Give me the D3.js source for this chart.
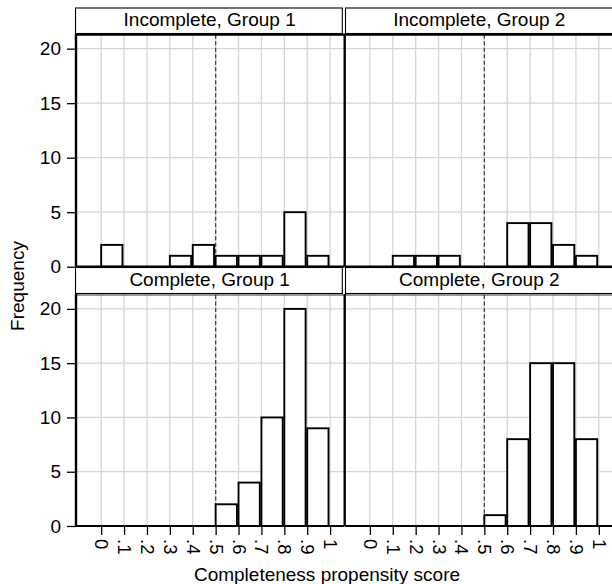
<!DOCTYPE html>
<html>
<head>
<meta charset="utf-8">
<script src="https://cdn.jsdelivr.net/npm/d3@7"></script>
<style>
  html, body { margin: 0; padding: 0; background: #fff; }
  svg { display: block; font-family: "Liberation Sans", Arial, sans-serif; }
</style>
</head>
<body>
<svg id="chart" width="612" height="584"></svg>
<script>
// ---- data ----
const binStarts = [0, 0.1, 0.2, 0.3, 0.4, 0.5, 0.6, 0.7, 0.8, 0.9];
const binWidth = 0.1;
const incompleteGroup1 = [2, 0, 0, 1, 2, 1, 1, 1, 5, 1];
const incompleteGroup2 = [0, 1, 1, 1, 0, 0, 4, 4, 2, 1];
const completeGroup1   = [0, 0, 0, 0, 0, 2, 4, 10, 20, 9];
const completeGroup2   = [0, 0, 0, 0, 0, 1, 8, 15, 15, 8];
const panelTitles = ["Incomplete, Group 1", "Incomplete, Group 2", "Complete, Group 1", "Complete, Group 2"];
const xTickValues = [0, 0.1, 0.2, 0.3, 0.4, 0.5, 0.6, 0.7, 0.8, 0.9, 1];
const xTickLabels = ["0", ".1", ".2", ".3", ".4", ".5", ".6", ".7", ".8", ".9", "1"];
const yTickValues = [0, 5, 10, 15, 20];
const cutoff = 0.5;
const xTitle = "Completeness propensity score";
const yTitle = "Frequency";

// ---- layout ----
const svg = d3.select("#chart");
const colX = [76, 344.7];
const panelW = 268.3;
const rowTop = [34.7, 295];
const rowBottom = [266.7, 526];
const stripTop = [8, 267.5];
const stripBottom = [33.5, 293.5];
const xDomain = [-0.11, 1.062];
const yDomain = [0, 21.28];
const gridColor = "#d6d6d6";
const fontSize = 19;

const panels = [
  { title: panelTitles[0], values: incompleteGroup1, col: 0, row: 0 },
  { title: panelTitles[1], values: incompleteGroup2, col: 1, row: 0 },
  { title: panelTitles[2], values: completeGroup1,   col: 0, row: 1 },
  { title: panelTitles[3], values: completeGroup2,   col: 1, row: 1 }
];

panels.forEach(p => {
  const x0 = colX[p.col], x1 = x0 + panelW;
  const top = rowTop[p.row], bottom = rowBottom[p.row];
  const x = d3.scaleLinear().domain(xDomain).range([x0, x1]);
  const y = d3.scaleLinear().domain(yDomain).range([bottom, top]);
  const g = svg.append("g");

  // strip header
  g.append("rect")
    .attr("x", x0 + (p.col === 0 ? -0.5 : 0.8))
    .attr("y", stripTop[p.row])
    .attr("width", panelW - (p.col === 0 ? 1.5 : 0))
    .attr("height", stripBottom[p.row] - stripTop[p.row])
    .attr("fill", "#fff").attr("stroke", "#000").attr("stroke-width", 1.1);
  g.append("text")
    .attr("x", (x0 + x1) / 2 + (p.col === 0 ? -0.5 : 0.5))
    .attr("y", stripBottom[p.row] - 7.5)
    .attr("text-anchor", "middle")
    .attr("font-size", fontSize)
    .text(p.title);

  // gridlines
  g.append("g").selectAll("line.v").data(xTickValues).join("line")
    .attr("x1", d => x(d)).attr("x2", d => x(d))
    .attr("y1", top).attr("y2", bottom)
    .attr("stroke", gridColor).attr("stroke-width", 1.3);
  g.append("g").selectAll("line.h").data(yTickValues).join("line")
    .attr("x1", x0).attr("x2", x1)
    .attr("y1", d => y(d)).attr("y2", d => y(d))
    .attr("stroke", gridColor).attr("stroke-width", 1.3);

  // cutoff line
  g.append("line")
    .attr("x1", x(cutoff)).attr("x2", x(cutoff))
    .attr("y1", top).attr("y2", bottom)
    .attr("stroke", "#444").attr("stroke-width", 1.3)
    .attr("stroke-dasharray", "4,2.5");

  // bars
  const bins = binStarts.map((b, i) => ({ start: b, count: p.values[i] })).filter(d => d.count > 0);
  g.append("g").selectAll("rect").data(bins).join("rect")
    .attr("x", d => x(d.start))
    .attr("width", d => x(d.start + binWidth) - x(d.start) - 1.6)
    .attr("y", d => y(d.count))
    .attr("height", d => y(0) - y(d.count))
    .attr("fill", "#fff").attr("stroke", "#000").attr("stroke-width", 1.9);

  // top line of plot region
  g.append("line")
    .attr("x1", x0).attr("x2", x1).attr("y1", top).attr("y2", top)
    .attr("stroke", "#000").attr("stroke-width", p.row === 0 ? 2.2 : 0.8);

  // x axis
  const xAxis = d3.axisBottom(x).tickValues(p.row === 1 ? xTickValues : []).tickSize(p.row === 1 ? 9 : 0)
    .tickFormat((d, i) => xTickLabels[i]);
  const xa = g.append("g").attr("transform", `translate(0,${bottom})`).call(xAxis);
  xa.select(".domain").attr("d", `M${x0},0H${x1}`).attr("stroke", "#000").attr("stroke-width", 2.2);
  xa.selectAll(".tick line").attr("stroke", "#000").attr("stroke-width", 1.3);
  xa.selectAll(".tick text")
    .attr("font-size", 18.5).attr("font-family", "Liberation Sans, Arial, sans-serif").attr("fill", "#000")
    .attr("text-anchor", "start")
    .attr("transform", "rotate(90)")
    .attr("x", 13).attr("y", 0).attr("dy", "0.35em");

  // y axis
  const yAxis = d3.axisLeft(y).tickValues(p.col === 0 ? yTickValues : []).tickSize(p.col === 0 ? 9 : 0).tickPadding(6);
  const ya = g.append("g").attr("transform", `translate(${x0},0)`).call(yAxis);
  ya.select(".domain").attr("d", `M0,${top - 1}V${bottom}`).attr("stroke", "#000").attr("stroke-width", 2.4);
  ya.selectAll(".tick line").attr("stroke", "#000").attr("stroke-width", 1.3);
  ya.selectAll(".tick text")
    .attr("font-size", fontSize).attr("font-family", "Liberation Sans, Arial, sans-serif").attr("fill", "#000");
});

// axis titles
svg.append("text")
  .attr("x", 327).attr("y", 580.5)
  .attr("text-anchor", "middle").attr("font-size", fontSize)
  .text(xTitle);
svg.append("text")
  .attr("transform", "translate(24,286) rotate(-90)")
  .attr("text-anchor", "middle").attr("font-size", fontSize)
  .text(yTitle);
</script>
</body>
</html>
